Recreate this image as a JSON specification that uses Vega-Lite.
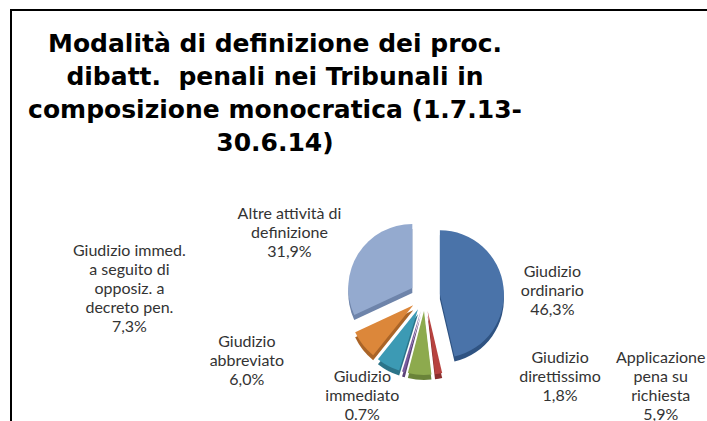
{
  "$schema": "https://vega.github.io/schema/vega-lite/v6.json",
  "width": 828,
  "height": 572,
  "autosize": {"type": "none"},
  "padding": {"left": 11, "top": 10, "right": 0, "bottom": 0},
  "background": "white",
  "view": {"stroke": "black", "strokeWidth": 2},
  "title": {
    "text": ["Modalità di definizione dei proc.", "dibatt.\u00a0 penali nei Tribunali in", "composizione monocratica (1.7.13-", "30.6.14)"],
    "orient": "top",
    "anchor": "start",
    "align": "center",
    "dx": 264,
    "offset": -146,
    "baseline": "top",
    "font": "DejaVu Sans",
    "fontSize": 25,
    "fontWeight": "bold",
    "lineHeight": 33,
    "color": "black"
  },
  "data": {
    "values": [
      {"order": 1, "name": "Giudizio ordinario", "value": 46.3, "label": "Giudizio\nordinario\n46,3%"},
      {"order": 2, "name": "Giudizio direttissimo", "value": 1.8, "label": "Giudizio\ndirettissimo\n1,8%"},
      {"order": 3, "name": "Applicazione pena su richiesta", "value": 5.9, "label": "Applicazione\npena su\nrichiesta\n5,9%"},
      {"order": 4, "name": "Giudizio immediato", "value": 0.7, "label": "Giudizio\nimmediato\n0.7%"},
      {"order": 5, "name": "Giudizio abbreviato", "value": 6.0, "label": "Giudizio\nabbreviato\n6,0%"},
      {"order": 6, "name": "Giudizio immed. a seguito di opposiz. a decreto pen.", "value": 7.3, "label": "Giudizio immed.\na seguito di\nopposiz. a\ndecreto pen.\n7,3%"},
      {"order": 7, "name": "Altre attività di definizione", "value": 31.9, "label": "Altre attività di\ndefinizione\n31,9%"}
    ]
  },
  "transform": [
    {"stack": "value", "groupby": [], "sort": [{"field": "order"}], "as": ["start", "end"]},
    {"calculate": "(datum.start + datum.end) / 2", "as": "mid"}
  ],
  "encoding": {
    "theta": {"field": "start", "type": "quantitative", "stack": null, "scale": {"domain": [0, 99.9]}},
    "theta2": {"field": "end"},
    "color": {
      "field": "name", "type": "nominal", "legend": null,
      "scale": {
        "domain": ["Giudizio ordinario", "Giudizio direttissimo", "Applicazione pena su richiesta", "Giudizio immediato", "Giudizio abbreviato", "Giudizio immed. a seguito di opposiz. a decreto pen.", "Altre attività di definizione"],
        "range": ["#4A73A9", "#B7423F", "#8DAA4E", "#7A5C9E", "#3C9AB4", "#DC873A", "#94AACF"]
      }
    }
  },
  "layer": [
    {"transform": [{"filter": "datum.order == 1"}], "mark": {"type": "arc", "outerRadius": 64, "x": {"expr": "width/2 + 14.9"}, "y": {"expr": "height/2 + 3.3"}}, "encoding": {"color": {"value": "#2F5382"}}},
    {"transform": [{"filter": "datum.order == 2"}], "mark": {"type": "arc", "outerRadius": 64, "x": {"expr": "width/2 + 2.6"}, "y": {"expr": "height/2 + 19.8"}}, "encoding": {"color": {"value": "#8A2F2D"}}},
    {"transform": [{"filter": "datum.order == 3"}], "mark": {"type": "arc", "outerRadius": 64, "x": {"expr": "width/2 - 1.0"}, "y": {"expr": "height/2 + 20.0"}}, "encoding": {"color": {"value": "#6A8339"}}},
    {"transform": [{"filter": "datum.order == 4"}], "mark": {"type": "arc", "outerRadius": 64, "x": {"expr": "width/2 - 4.1"}, "y": {"expr": "height/2 + 19.4"}}, "encoding": {"color": {"value": "#5A4277"}}},
    {"transform": [{"filter": "datum.order == 5"}], "mark": {"type": "arc", "outerRadius": 64, "x": {"expr": "width/2 - 7.0"}, "y": {"expr": "height/2 + 18.3"}}, "encoding": {"color": {"value": "#2B7489"}}},
    {"transform": [{"filter": "datum.order == 6"}], "mark": {"type": "arc", "outerRadius": 64, "x": {"expr": "width/2 - 11.8"}, "y": {"expr": "height/2 + 14.3"}}, "encoding": {"color": {"value": "#AA6427"}}},
    {"transform": [{"filter": "datum.order == 7"}], "mark": {"type": "arc", "outerRadius": 64, "x": {"expr": "width/2 - 12.7"}, "y": {"expr": "height/2 - 3.1"}}, "encoding": {"color": {"value": "#6E84AA"}}},

    {"transform": [{"filter": "datum.order == 1"}], "mark": {"type": "arc", "outerRadius": 64, "x": {"expr": "width/2 + 14.9"}, "y": {"expr": "height/2 - 1.7"}}},
    {"transform": [{"filter": "datum.order == 2"}], "mark": {"type": "arc", "outerRadius": 64, "x": {"expr": "width/2 + 2.6"}, "y": {"expr": "height/2 + 14.8"}}},
    {"transform": [{"filter": "datum.order == 3"}], "mark": {"type": "arc", "outerRadius": 64, "x": {"expr": "width/2 - 1.0"}, "y": {"expr": "height/2 + 15.0"}}},
    {"transform": [{"filter": "datum.order == 4"}], "mark": {"type": "arc", "outerRadius": 64, "x": {"expr": "width/2 - 4.1"}, "y": {"expr": "height/2 + 14.4"}}},
    {"transform": [{"filter": "datum.order == 5"}], "mark": {"type": "arc", "outerRadius": 64, "x": {"expr": "width/2 - 7.0"}, "y": {"expr": "height/2 + 13.3"}}},
    {"transform": [{"filter": "datum.order == 6"}], "mark": {"type": "arc", "outerRadius": 64, "x": {"expr": "width/2 - 11.8"}, "y": {"expr": "height/2 + 9.3"}}},
    {"transform": [{"filter": "datum.order == 7"}], "mark": {"type": "arc", "outerRadius": 64, "x": {"expr": "width/2 - 12.7"}, "y": {"expr": "height/2 - 8.1"}}},

    {"transform": [{"filter": "datum.order == 1"}], "mark": {"type": "text", "radius": 105, "dx": 23, "dy": -12, "align": "center", "baseline": "middle", "lineBreak": "\n", "font": "Lato", "fontSize": 16, "lineHeight": 19},
     "encoding": {"theta": {"field": "mid", "type": "quantitative", "stack": null, "scale": {"domain": [0, 99.9]}}, "theta2": null, "text": {"field": "label"}, "color": {"value": "#333333"}}},
    {"transform": [{"filter": "datum.order == 2"}], "mark": {"type": "text", "radius": 105, "dx": 117, "dy": -41, "align": "center", "baseline": "middle", "lineBreak": "\n", "font": "Lato", "fontSize": 16, "lineHeight": 19},
     "encoding": {"theta": {"field": "mid", "type": "quantitative", "stack": null, "scale": {"domain": [0, 99.9]}}, "theta2": null, "text": {"field": "label"}, "color": {"value": "#333333"}}},
    {"transform": [{"filter": "datum.order == 3"}], "mark": {"type": "text", "radius": 105, "dx": 243, "dy": -43, "align": "center", "baseline": "middle", "lineBreak": "\n", "font": "Lato", "fontSize": 16, "lineHeight": 19},
     "encoding": {"theta": {"field": "mid", "type": "quantitative", "stack": null, "scale": {"domain": [0, 99.9]}}, "theta2": null, "text": {"field": "label"}, "color": {"value": "#333333"}}},
    {"transform": [{"filter": "datum.order == 4"}], "mark": {"type": "text", "radius": 105, "dx": -34, "dy": -20, "align": "center", "baseline": "middle", "lineBreak": "\n", "font": "Lato", "fontSize": 16, "lineHeight": 19},
     "encoding": {"theta": {"field": "mid", "type": "quantitative", "stack": null, "scale": {"domain": [0, 99.9]}}, "theta2": null, "text": {"field": "label"}, "color": {"value": "#333333"}}},
    {"transform": [{"filter": "datum.order == 5"}], "mark": {"type": "text", "radius": 105, "dx": -129, "dy": -47, "align": "center", "baseline": "middle", "lineBreak": "\n", "font": "Lato", "fontSize": 16, "lineHeight": 19},
     "encoding": {"theta": {"field": "mid", "type": "quantitative", "stack": null, "scale": {"domain": [0, 99.9]}}, "theta2": null, "text": {"field": "label"}, "color": {"value": "#333333"}}},
    {"transform": [{"filter": "datum.order == 6"}], "mark": {"type": "text", "radius": 105, "dx": -213, "dy": -110, "align": "center", "baseline": "middle", "lineBreak": "\n", "font": "Lato", "fontSize": 16, "lineHeight": 19},
     "encoding": {"theta": {"field": "mid", "type": "quantitative", "stack": null, "scale": {"domain": [0, 99.9]}}, "theta2": null, "text": {"field": "label"}, "color": {"value": "#333333"}}},
    {"transform": [{"filter": "datum.order == 7"}], "mark": {"type": "text", "radius": 105, "dx": -47, "dy": -26, "align": "center", "baseline": "middle", "lineBreak": "\n", "font": "Lato", "fontSize": 16, "lineHeight": 19},
     "encoding": {"theta": {"field": "mid", "type": "quantitative", "stack": null, "scale": {"domain": [0, 99.9]}}, "theta2": null, "text": {"field": "label"}, "color": {"value": "#333333"}}}
  ]
}
